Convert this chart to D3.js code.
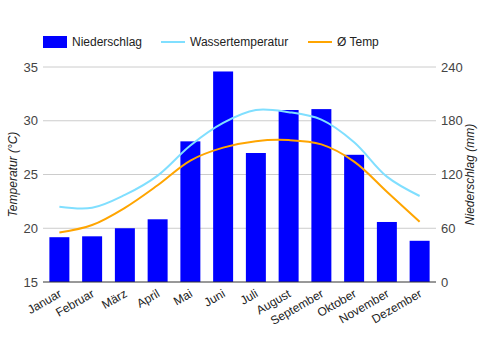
<!DOCTYPE html>
<html>
<head>
<meta charset="utf-8">
<script src="https://cdn.jsdelivr.net/npm/d3@7"></script>
<style>
  body { margin: 0; background: #fff; }
  text { font-family: "Liberation Sans", Arial, sans-serif; }
</style>
</head>
<body>
<svg id="chart" width="481" height="350"></svg>
<script>
const months = ["Januar","Februar","März","April","Mai","Juni","Juli","August","September","Oktober","November","Dezember"];
const niederschlag = [50, 51, 60, 70, 157, 235, 144, 192, 193, 142, 67, 46];
const wassertemp = [22.0, 21.9, 23.1, 24.9, 27.7, 29.8, 31.0, 30.8, 30.1, 28.0, 24.8, 23.0];
const avgTemp = [19.6, 20.3, 21.9, 24.0, 26.3, 27.5, 28.1, 28.2, 27.8, 26.2, 23.4, 20.6];
const tempTicks = [15, 20, 25, 30, 35];
const rainTicks = [0, 60, 120, 180, 240];

const svg = d3.select("#chart");
const margin = {top: 67, left: 43, right: 45, bottom: 68};
const width = +svg.attr("width"), height = +svg.attr("height");
const plotW = width - margin.left - margin.right,
      plotH = height - margin.top - margin.bottom;

const x = d3.scaleBand().domain(months).range([margin.left, margin.left + plotW]).paddingInner(0.39).paddingOuter(0.195);
const yT = d3.scaleLinear().domain([15, 35]).range([margin.top + plotH, margin.top]);
const yR = d3.scaleLinear().domain([0, 240]).range([margin.top + plotH, margin.top]);

// gridlines
svg.append("g").selectAll("line")
    .data(tempTicks.slice(1))
    .enter().append("line")
    .attr("x1", margin.left).attr("x2", margin.left + plotW)
    .attr("y1", d => yT(d)).attr("y2", d => yT(d))
    .attr("stroke", "#ccc").attr("stroke-width", 1);

// bars
svg.append("g").selectAll("rect")
    .data(niederschlag)
    .enter().append("rect")
    .attr("x", (d, i) => x(months[i]))
    .attr("width", x.bandwidth())
    .attr("y", d => yR(d))
    .attr("height", d => yR(0) - yR(d))
    .attr("fill", "#0000ff");

// lines
const line = d3.line()
    .x((d, i) => x(months[i]) + x.bandwidth() / 2)
    .y(d => yT(d))
    .curve(d3.curveCatmullRom.alpha(0.5));

svg.append("path").datum(wassertemp)
    .attr("d", line).attr("fill", "none")
    .attr("stroke", "#80dfff").attr("stroke-width", 2);
svg.append("path").datum(avgTemp)
    .attr("d", line).attr("fill", "none")
    .attr("stroke", "#ffa500").attr("stroke-width", 2);

// baseline
svg.append("line")
    .attr("x1", margin.left).attr("x2", margin.left + plotW)
    .attr("y1", yT(15)).attr("y2", yT(15))
    .attr("stroke", "#333").attr("stroke-width", 1);

// left ticks
svg.append("g").selectAll("text")
    .data(tempTicks)
    .enter().append("text")
    .attr("x", margin.left - 5)
    .attr("y", d => yT(d) + 4.5)
    .attr("text-anchor", "end")
    .style("font-size", "13px")
    .style("fill", "#444")
    .text(d => d);

// right ticks
svg.append("g").selectAll("text")
    .data(rainTicks)
    .enter().append("text")
    .attr("x", margin.left + plotW + 5)
    .attr("y", d => yR(d) + 4.5)
    .attr("text-anchor", "start")
    .style("font-size", "13px")
    .style("fill", "#444")
    .text(d => d);

// month labels
svg.append("g").selectAll("text")
    .data(months)
    .enter().append("text")
    .attr("transform", d => "translate(" + (x(d) + x.bandwidth() / 2 + 3) + "," + (yT(15) + 14) + ") rotate(-30)")
    .attr("text-anchor", "end")
    .style("font-size", "12px")
    .style("fill", "#222")
    .text(d => d);

// axis titles
svg.append("text")
    .attr("transform", "translate(17," + (margin.top + plotH / 2) + ") rotate(-90)")
    .attr("text-anchor", "middle")
    .style("font-size", "12px")
    .style("font-style", "italic")
    .style("fill", "#222")
    .text("Temperatur (°C)");
svg.append("text")
    .attr("transform", "translate(474," + (margin.top + plotH / 2) + ") rotate(-90)")
    .attr("text-anchor", "middle")
    .style("font-size", "12px")
    .style("font-style", "italic")
    .style("fill", "#222")
    .text("Niederschlag (mm)");

// legend
const legend = svg.append("g");
legend.append("rect").attr("x", 43).attr("y", 36).attr("width", 24).attr("height", 12).attr("fill", "#0000ff");
legend.append("text").attr("x", 72).attr("y", 46).style("font-size", "12px").style("fill", "#222").text("Niederschlag");
legend.append("line").attr("x1", 161).attr("x2", 185).attr("y1", 42).attr("y2", 42).attr("stroke", "#80dfff").attr("stroke-width", 2);
legend.append("text").attr("x", 190).attr("y", 46).style("font-size", "12px").style("fill", "#222").text("Wassertemperatur");
legend.append("line").attr("x1", 308).attr("x2", 332).attr("y1", 42).attr("y2", 42).attr("stroke", "#ffa500").attr("stroke-width", 2);
legend.append("text").attr("x", 337).attr("y", 46).style("font-size", "12px").style("fill", "#222").text("Ø Temp");
</script>
</body>
</html>
